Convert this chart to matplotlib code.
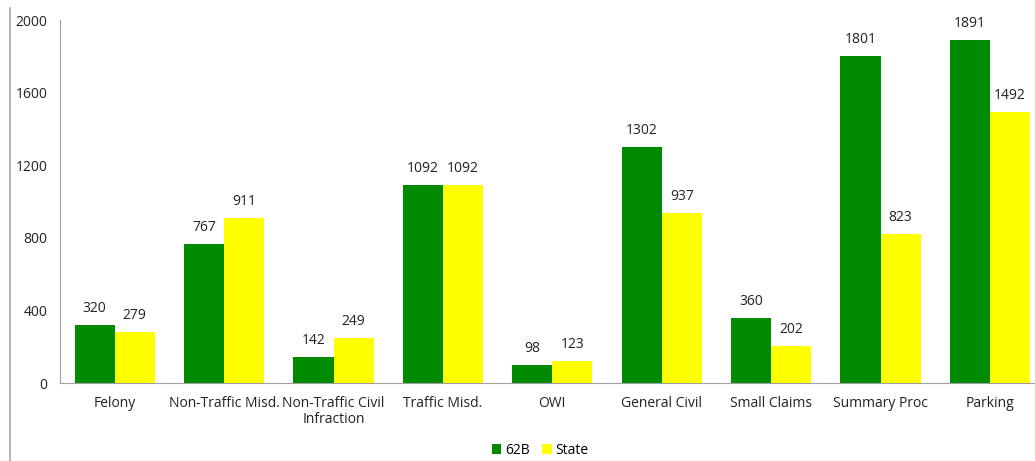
import matplotlib.pyplot as plt
import matplotlib.lines as mlines
import numpy as np

categories = ["Felony", "Non-Traffic Misd.", "Non-Traffic Civil\nInfraction", "Traffic Misd.",
              "OWI", "General Civil", "Small Claims", "Summary Proc", "Parking"]
court_62b = [320, 767, 142, 1092, 98, 1302, 360, 1801, 1891]
state = [279, 911, 249, 1092, 123, 937, 202, 823, 1492]

plt.rcParams['font.family'] = ['Open Sans', 'DejaVu Sans']

fig = plt.figure(figsize=(10.35, 4.61), dpi=100)
ax = fig.add_axes([60 / 1035, 78 / 461, 984.6 / 1035, 363 / 461])

x = np.arange(len(categories))
w = 0.366
b1 = ax.bar(x - w / 2, court_62b, w, color="#008a00", label="62B")
b2 = ax.bar(x + w / 2, state, w, color="#ffff00", label="State")

for bars, vals in ((b1, court_62b), (b2, state)):
    for b, v in zip(bars, vals):
        ax.text(b.get_x() + b.get_width() / 2, v + 50, str(v),
                ha="center", va="bottom", fontsize=10, color="#222222")

ax.set_xlim(-0.5, 8.5)
ax.set_ylim(0, 2000)
ax.set_yticks([0, 400, 800, 1200, 1600, 2000])
ax.set_xticks(x)
ax.set_xticklabels(categories, fontsize=10, color="#222222", va="top", linespacing=1.1)
ax.tick_params(axis="y", length=0, pad=9, labelsize=10, labelcolor="#222222")
ax.tick_params(axis="x", length=0, pad=9)

for s in ("top", "right"):
    ax.spines[s].set_visible(False)
ax.spines["left"].set_color("#a0a0a0")
ax.spines["bottom"].set_color("#a0a0a0")

# outer border line at the far left
fig.add_artist(mlines.Line2D([9.5 / 1035, 9.5 / 1035], [0, 453 / 461],
                             transform=fig.transFigure, color="#a8a8a8", lw=1.2))

fig.legend(handles=[b1, b2], loc="center", bbox_to_anchor=(540 / 1035, 11 / 461),
           ncol=2, frameon=False, fontsize=10, handlelength=0.7, handleheight=0.7,
           handletextpad=0.25, columnspacing=0.9)

fig.savefig("out.png", dpi=100)
